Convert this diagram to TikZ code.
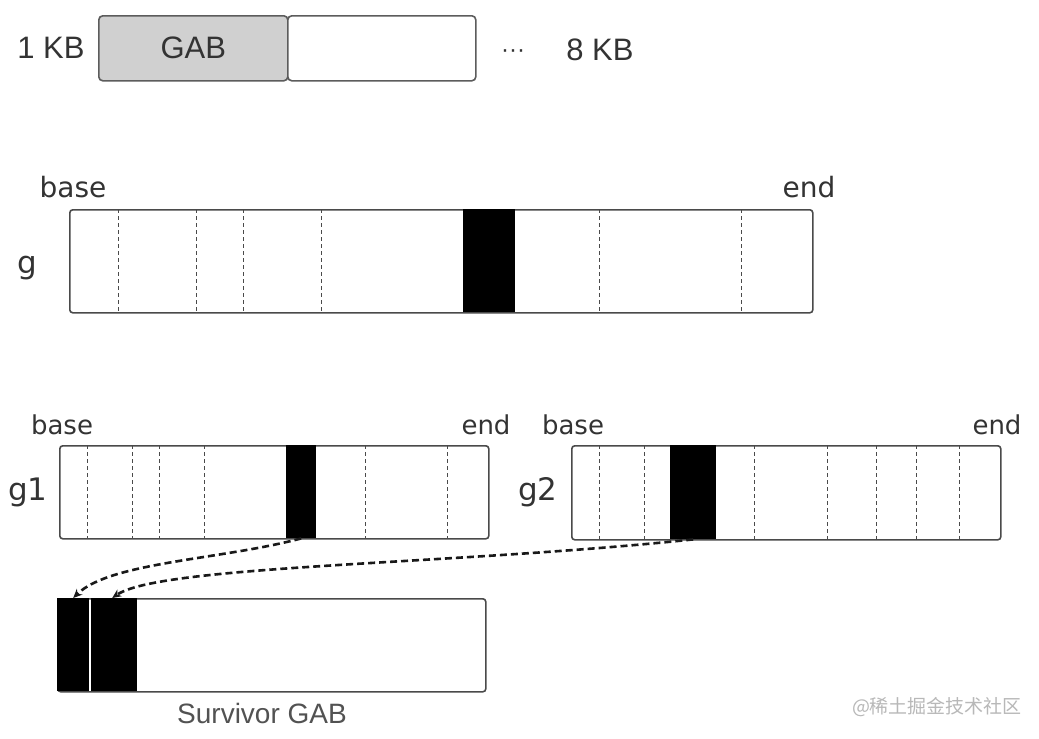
\documentclass[tikz,border=0pt]{standalone}
\usepackage{fontspec}
\setmainfont{Liberation Sans}
\newfontfamily\labelfont{DejaVu Sans}
\newfontfamily\cjkfont{Noto Sans CJK SC}
\usepackage{tikz}
\usetikzlibrary{positioning, arrows.meta, calc}
\definecolor{boxedge}{HTML}{4A4A4A}
\definecolor{gabgray}{HTML}{D0D0D0}
\definecolor{inkgray}{HTML}{333333}
\definecolor{markgray}{HTML}{B8B8B8}

\begin{document}
\begin{tikzpicture}[
    x=1pt, y=-1pt,
    >=Stealth,
    bar/.style={
        rectangle, draw=boxedge, line width=1.6pt, rounded corners=3pt,
        fill=white, inner sep=0pt, anchor=north west
    },
    gabbox/.style={bar, draw=boxedge!90, fill=gabgray, rounded corners=4pt},
    live/.style={rectangle, fill=black, inner sep=0pt, anchor=north west},
    divider/.style={dashed, dash pattern=on 4pt off 3pt, line width=1pt, color=boxedge},
    copyarrow/.style={-{Stealth[length=9pt, width=8pt]}, line width=2.6pt,
        dash pattern=on 7pt off 4pt, color=black!90},
    sizelabel/.style={font=\fontsize{31}{34}\selectfont, text=inkgray, inner sep=0pt},
    barname/.style={font=\labelfont\fontsize{31}{34}\selectfont, text=inkgray, inner sep=0pt},
    edgelabel/.style={font=\labelfont\fontsize{28}{30}\selectfont, text=inkgray, inner sep=0pt},
]
\useasboundingbox[fill=white] (0,0) rectangle (1039,739);

% ── Size classes ──────────────────────────────────────────────────────────
\node[sizelabel] (kb1) at (51,48) {1 KB};
\node[gabbox, minimum width=189pt, minimum height=65pt] (gab) at (98,15) {};
\node[sizelabel] at (gab.center) {GAB};
\node[gabbox, fill=white, minimum width=188pt, minimum height=65pt] (gabnext) at (287,15) {};
\node[sizelabel, font=\fontsize{24}{26}\selectfont] (dots) at (513,54) {···};
\node[sizelabel] (kb8) at (600,50) {8 KB};

% ── Region g ──────────────────────────────────────────────────────────────
\node[bar, minimum width=743pt, minimum height=103pt] (g) at (69,209) {};
\foreach \x in {118,196,243,321,599,741}
    \draw[divider] (\x,209) -- (\x,312);
\node[live, minimum width=52pt, minimum height=103pt] (g-live) at (463,209) {};
\node[barname] (g-name) at (27,268) {g};
\node[edgelabel] (g-base) at (73,187) {base};
\node[edgelabel] (g-end) at (809,187) {end};

% ── Region g1 ─────────────────────────────────────────────────────────────
\node[bar, minimum width=429pt, minimum height=93pt] (g1) at (59,445) {};
\foreach \x in {87,132,159,204,365,447}
    \draw[divider] (\x,445) -- (\x,538);
\node[live, minimum width=30pt, minimum height=93pt] (g1-live) at (286,445) {};
\node[barname] (g1-name) at (28,492) {g1};
\node[edgelabel, font=\labelfont\fontsize{26}{28}\selectfont] (g1-base) at (62,425) {base};
\node[edgelabel, font=\labelfont\fontsize{26}{28}\selectfont] (g1-end) at (486,425) {end};

% ── Region g2 ─────────────────────────────────────────────────────────────
\node[bar, minimum width=429pt, minimum height=94pt] (g2) at (571,445) {};
\foreach \x in {599,644,754,827,876,916,959}
    \draw[divider] (\x,445) -- (\x,539);
\node[live, minimum width=46pt, minimum height=94pt] (g2-live) at (670,445) {};
\node[barname] (g2-name) at (538,492) {g2};
\node[edgelabel, font=\labelfont\fontsize{26}{28}\selectfont] (g2-base) at (573,425) {base};
\node[edgelabel, font=\labelfont\fontsize{26}{28}\selectfont] (g2-end) at (997,425) {end};

% ── Survivor GAB ──────────────────────────────────────────────────────────
\node[bar, minimum width=428pt, minimum height=93pt] (surv) at (57,598) {};
\node[live, minimum width=32pt, minimum height=93pt] (surv-a) at (57,598) {};
\node[live, minimum width=46pt, minimum height=93pt] (surv-b) at (91,598) {};
\node[sizelabel, font=\fontsize{28}{30}\selectfont, text=inkgray!85] (surv-name) at (262,713) {Survivor GAB};

% ── Copies ────────────────────────────────────────────────────────────────
\draw[copyarrow] (g1-live.south) .. controls (220,560) and (110,562) .. (surv-a.north);
\draw[copyarrow] (g2-live.south) .. controls (450,565) and (160,565) .. ([xshift=-2pt]surv-b.north);

% ── Watermark ─────────────────────────────────────────────────────────────
\node[font=\cjkfont\fontsize{19}{21}\selectfont, text=markgray, inner sep=0pt] (mark) at (937,707) {@稀土掘金技术社区};

\end{tikzpicture}
\end{document}
